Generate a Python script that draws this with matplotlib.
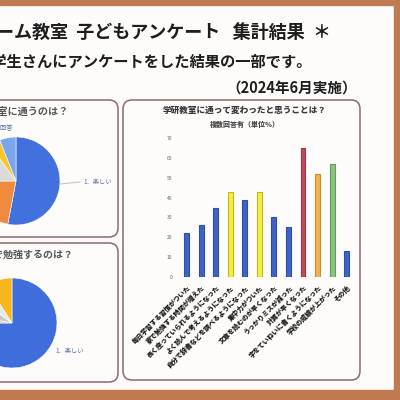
import matplotlib.pyplot as plt
from matplotlib.patches import FancyBboxPatch, Rectangle

plt.rcParams['font.family'] = ['Noto Sans CJK JP', 'DejaVu Sans']

# データ
bar_labels = ['毎日学習する習慣がついた', '家で勉強する時間が増えた', '長く座っていられるようになった',
              'よく読んで考えるようになった', '自分で辞書などを調べるようになった', '集中力がついた',
              '文章を読むのが早くなった', 'うっかりミスが減った', '計算が早くなった',
              '字をていねいに書くようになった', '学校の成績が上がった', 'その他']
bar_values = [22, 26, 35, 43, 39, 43, 30, 25, 65, 52, 57, 13]
bar_colors = ['#3e63c6', '#3e63c6', '#3e63c6', '#f4ee3c', '#3e63c6', '#f4ee3c',
              '#3e63c6', '#3e63c6', '#c04a60', '#f2b155', '#8cc47f', '#3e63c6']
bar_edges = ['#2d4ea6', '#2d4ea6', '#2d4ea6', '#c9b420', '#2d4ea6', '#c9b420',
             '#2d4ea6', '#2d4ea6', '#9c3448', '#d48a2e', '#5f9e58', '#2d4ea6']
y_ticks = [0, 10, 20, 30, 40, 50, 60, 70]

pie1_values = [53, 22, 15, 4, 6]
pie1_colors = ['#4270dc', '#f08a3e', '#dadada', '#f6c62a', '#79a6ee']
pie2_values = [75, 3, 7, 6, 9]
pie2_colors = ['#3f6edc', '#f3c6b0', '#c8c8c8', '#e8e8e8', '#f6b61e']

paper = '#fdfcfb'
brown = '#c07a52'
box_edge = '#8d6a6a'

fig = plt.figure(figsize=(4, 4), dpi=100)
fig.patch.set_facecolor(paper)

# 背景用の座標（ピクセル単位）
bg = fig.add_axes([0, 0, 1, 1])
bg.set_xlim(0, 400)
bg.set_ylim(400, 0)
bg.axis('off')
bg.set_zorder(0)

# 茶色の枠
bg.add_patch(Rectangle((0, 0), 400, 5, color=brown))
bg.add_patch(Rectangle((394, 0), 6, 400, color=brown))
bg.add_patch(Rectangle((0, 390), 400, 10, color=brown))

# 角丸の枠
for (x, y, w, h) in [(-30, 100, 148, 137), (-30, 243, 148, 139), (123, 100, 237, 280)]:
    bg.add_patch(FancyBboxPatch((x, y), w, h, boxstyle='round,pad=0,rounding_size=9',
                                fc='none', ec=box_edge, lw=1.1))

# 見出し
bg.text(331, 33, '学研ホーム教室  子どもアンケート   集計結果  ＊', ha='right', va='center',
        fontsize=13, fontweight='bold', color='#1e1e1e')
bg.text(312, 62, '小学生さんにアンケートをした結果の一部です。', ha='right', va='center',
        fontsize=11, fontweight='bold', color='#1e1e1e')
bg.text(357, 88, '（2024年6月実施）', ha='right', va='center',
        fontsize=10.5, fontweight='bold', color='#1e1e1e')

bg.text(69, 112, '学研教室に通うのは？', ha='right', va='center',
        fontsize=7.3, fontweight='bold', color='#555555')
bg.text(74, 255, '家で勉強するのは？', ha='right', va='center',
        fontsize=7.2, fontweight='bold', color='#555555')

bg.text(245, 110, '学研教室に通って変わったと思うことは？', ha='center', va='center',
        fontsize=6.2, fontweight='heavy', color='#3a3a3a')
bg.text(245, 124, '複数回答有（単位%）', ha='center', va='center',
        fontsize=5, fontweight='heavy', color='#4a4a4a')

# 円グラフのラベル
bg.plot([60, 80], [184, 182], color='#c8c8c8', lw=0.8)
bg.text(83, 182, '1．楽しい', ha='left', va='center', fontsize=4.5, color='#5a6f9a')
bg.text(13, 128, '6．無回答', ha='right', va='center', fontsize=4.5, color='#5a6f9a')
bg.text(55, 351, '1．楽しい', ha='left', va='center', fontsize=4.5, color='#5a6f9a')

# 円グラフ
def draw_pie(cx, cy, r, values, colors):
    ax = fig.add_axes([(cx - r) / 400, 1 - (cy + r) / 400, 2 * r / 400, 2 * r / 400])
    ax.pie(values, colors=colors, startangle=90, counterclock=False,
           wedgeprops={'linewidth': 0.4, 'edgecolor': '#ffffff'})
    ax.set_xlim(-1, 1)
    ax.set_ylim(-1, 1)
    ax.set_aspect('equal')
    ax.axis('off')

draw_pie(16, 181, 44, pie1_values, pie1_colors)
draw_pie(12, 323, 45, pie2_values, pie2_colors)

# 棒グラフ
ax = fig.add_axes([179.4 / 400, 1 - 277 / 400, (353.9 - 179.4) / 400, (277 - 138) / 400])
ax.patch.set_alpha(0)
x = list(range(len(bar_values)))
ax.bar(x, bar_values, width=0.34, color=bar_colors, edgecolor=bar_edges, linewidth=0.8)
ax.set_xlim(-0.5, len(bar_values) - 0.5)
ax.set_ylim(0, 70)
ax.set_yticks(y_ticks)
ax.set_yticklabels([str(v) for v in y_ticks], fontsize=3.5, color='#666666')
ax.set_xticks(x)
ax.set_xticklabels(bar_labels, rotation=45, ha='right', rotation_mode='anchor',
                   fontsize=4.8, fontweight='heavy', color='#1a1a1a')
ax.tick_params(length=0, axis='y', pad=5)
ax.tick_params(length=0, axis='x', pad=5)
for s in ax.spines.values():
    s.set_visible(False)

plt.savefig('out.png', dpi=100, facecolor=paper)
